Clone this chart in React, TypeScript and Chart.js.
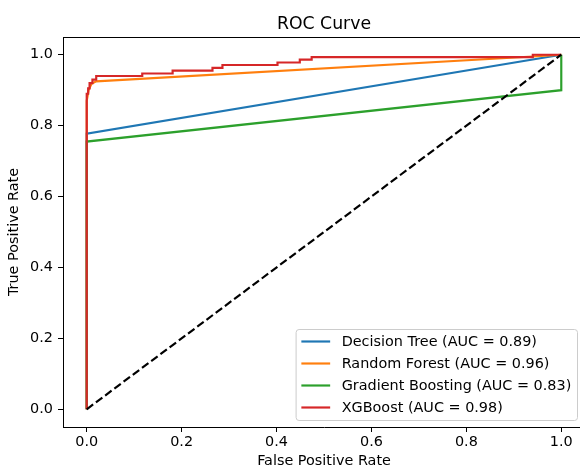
import { useEffect, useRef } from "react";
import { Chart, registerables } from "chart.js";

Chart.register(...registerables);

const chartTitle = "ROC Curve";
const xLabel = "False Positive Rate";
const yLabel = "True Positive Rate";
const xTicks = [0, 0.2, 0.4, 0.6, 0.8, 1.0];
const yTicks = [0, 0.2, 0.4, 0.6, 0.8, 1.0];

const modelNames = ["Decision Tree", "Random Forest", "Gradient Boosting", "XGBoost"];
const aucValues = [0.89, 0.96, 0.83, 0.98];
const modelColors = ["#1f77b4", "#ff7f0e", "#2ca02c", "#d62728"];

const dtFpr = [0, 0, 1];
const dtTpr = [0, 0.777, 1];

const rfFpr = [0, 0, 0.004, 0.01, 0.02, 0.94, 1];
const rfTpr = [0, 0.87, 0.9, 0.918, 0.925, 0.995, 1];

const gbFpr = [0, 0, 1, 1];
const gbTpr = [0, 0.755, 0.9, 1];

const xgbFpr = [0, 0, 0.003, 0.003, 0.006, 0.006, 0.012, 0.012, 0.02, 0.02, 0.117, 0.117, 0.181, 0.181, 0.265, 0.265, 0.286, 0.286, 0.402, 0.402, 0.449, 0.449, 0.474, 0.474, 0.94, 0.94, 1];
const xgbTpr = [0, 0.89, 0.89, 0.905, 0.905, 0.92, 0.92, 0.93, 0.93, 0.94, 0.94, 0.947, 0.947, 0.955, 0.955, 0.963, 0.963, 0.971, 0.971, 0.978, 0.978, 0.986, 0.986, 0.993, 0.993, 1, 1];

const chanceFpr = [0, 1];
const chanceTpr = [0, 1];

const FONT = '"DejaVu Sans", sans-serif';
const FS = 14.4;

const toPoints = (xs: number[], ys: number[]) => xs.map((x, i) => ({ x, y: ys[i] }));

const decorPlugin = {
  id: "decor",
  afterDraw(chart: any) {
    const { ctx, chartArea: a } = chart;
    ctx.save();
    // top & right spines
    ctx.strokeStyle = "#000";
    ctx.lineWidth = 1;
    ctx.beginPath();
    ctx.moveTo(a.left, a.top + 0.5);
    ctx.lineTo(a.right, a.top + 0.5);
    ctx.moveTo(a.right - 0.5, a.top);
    ctx.lineTo(a.right - 0.5, a.bottom);
    ctx.stroke();

    // title
    ctx.font = `17.3px ${FONT}`;
    ctx.fillStyle = "#000";
    ctx.textAlign = "center";
    ctx.textBaseline = "alphabetic";
    ctx.fillText(chartTitle, (a.left + a.right) / 2, a.top - 8);

    // legend
    ctx.font = `${FS}px ${FONT}`;
    const items = chart.data.datasets.filter((d: any) => d.inLegend);
    const pad = 0.4 * FS, handle = 2 * FS, gap = 0.8 * FS, row = 22, edge = 12.5;
    const textW = Math.max(...items.map((d: any) => ctx.measureText(d.label).width));
    const w = pad + handle + gap + textW + pad;
    const h = edge * 2 + row * (items.length - 1);
    const right = a.right - 8;
    const bottom = a.bottom - 7;
    const left = right - w;
    const top = bottom - h;
    ctx.beginPath();
    ctx.roundRect(left + 0.5, top + 0.5, w, h, 3);
    ctx.fillStyle = "rgba(255,255,255,0.8)";
    ctx.fill();
    ctx.strokeStyle = "#cccccc";
    ctx.lineWidth = 1;
    ctx.stroke();
    items.forEach((d: any, i: number) => {
      const y = top + edge + i * row;
      ctx.strokeStyle = d.borderColor;
      ctx.lineWidth = 2.17;
      ctx.setLineDash([]);
      ctx.beginPath();
      ctx.moveTo(left + pad, y);
      ctx.lineTo(left + pad + handle, y);
      ctx.stroke();
      ctx.fillStyle = "#000";
      ctx.textAlign = "left";
      ctx.textBaseline = "middle";
      ctx.fillText(d.label, left + pad + handle + gap, y + 0.5);
    });
    ctx.restore();
  },
};

export default function App() {
  const ref = useRef<HTMLCanvasElement>(null);

  useEffect(() => {
    if (!ref.current) return;
    const series = [
      [dtFpr, dtTpr],
      [rfFpr, rfTpr],
      [gbFpr, gbTpr],
      [xgbFpr, xgbTpr],
    ];
    const datasets: any[] = series.map(([xs, ys], i) => ({
      label: `${modelNames[i]} (AUC = ${aucValues[i].toFixed(2)})`,
      data: toPoints(xs, ys),
      borderColor: modelColors[i],
      backgroundColor: modelColors[i],
      borderWidth: 2.17,
      pointRadius: 0,
      tension: 0,
      fill: false,
      order: 4 - i,
      inLegend: true,
    }));
    datasets.push({
      label: "chance",
      data: toPoints(chanceFpr, chanceTpr),
      borderColor: "#000",
      borderWidth: 2.17,
      borderDash: [8, 3.5],
      pointRadius: 0,
      fill: false,
      order: 0,
      inLegend: false,
    });

    const tickFont = { family: FONT, size: FS };
    const chart = new Chart(ref.current, {
      type: "line",
      data: { datasets },
      options: {
        animation: false,
        responsive: false,
        devicePixelRatio: 1,
        layout: { padding: { top: 37, right: 15, left: 0, bottom: 0 } },
        plugins: { legend: { display: false }, tooltip: { enabled: false } },
        scales: {
          x: {
            type: "linear",
            min: -0.05,
            max: 1.05,
            afterBuildTicks: (s: any) => {
              s.ticks = xTicks.map((v) => ({ value: v }));
            },
            afterFit: (s: any) => {
              s.height = 43;
            },
            ticks: {
              font: tickFont,
              color: "#000",
              padding: 2,
              maxRotation: 0,
              autoSkip: false,
              callback: (v: any) => Number(v).toFixed(1),
            },
            grid: { drawOnChartArea: false, drawTicks: true, tickLength: 5, color: "#000" },
            border: { display: true, color: "#000", width: 1 },
            title: { display: true, text: xLabel, font: tickFont, color: "#000", padding: { top: 0, bottom: 0 } },
          },
          y: {
            type: "linear",
            min: -0.05,
            max: 1.05,
            afterBuildTicks: (s: any) => {
              s.ticks = yTicks.map((v) => ({ value: v }));
            },
            afterFit: (s: any) => {
              s.width = 63;
            },
            ticks: {
              font: tickFont,
              color: "#000",
              padding: 5,
              autoSkip: false,
              callback: (v: any) => Number(v).toFixed(1),
            },
            grid: { drawOnChartArea: false, drawTicks: true, tickLength: 5, color: "#000" },
            border: { display: true, color: "#000", width: 1 },
            title: { display: true, text: yLabel, font: tickFont, color: "#000", padding: { top: 6, bottom: 0 } },
          },
        },
      },
      plugins: [decorPlugin],
    } as any);
    return () => chart.destroy();
  }, []);

  return (
    <div style={{ position: "fixed", left: 0, top: 0, width: 580, height: 470, overflow: "hidden", background: "#fff" }}>
      <canvas ref={ref} width={600} height={470} style={{ display: "block" }} />
    </div>
  );
}
